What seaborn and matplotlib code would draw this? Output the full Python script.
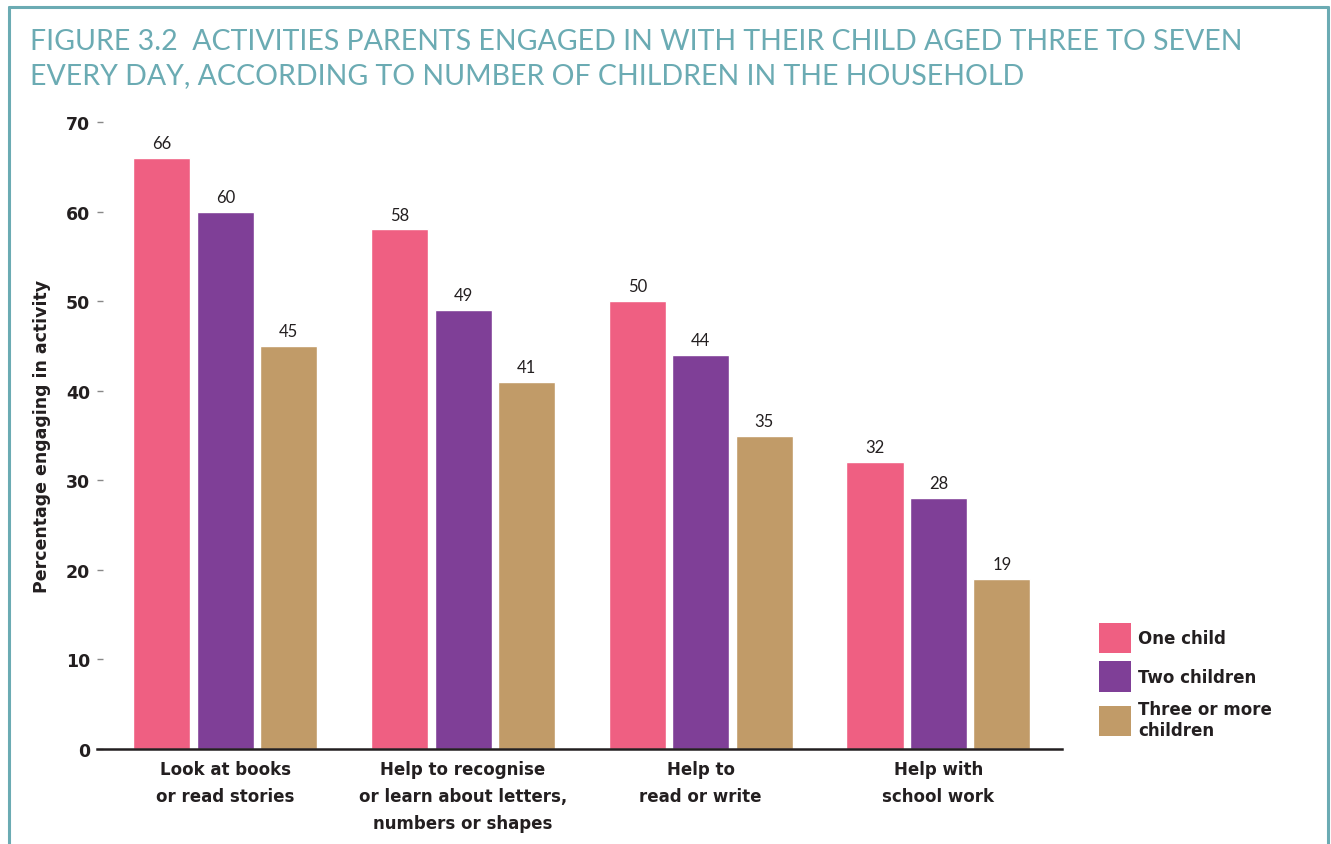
import matplotlib.pyplot as plt
import pandas as pd
import seaborn as sns
from matplotlib.lines import Line2D
from matplotlib.patches import Patch

# data
activities = [
    "Look at books\nor read stories",
    "Help to recognise\nor learn about letters,\nnumbers or shapes",
    "Help to\nread or write",
    "Help with\nschool work",
]
groups = ["One child", "Two children", "Three or more\nchildren"]
one_child = [66, 58, 50, 32]
two_children = [60, 49, 44, 28]
three_plus = [45, 41, 35, 19]

colors = ["#EF5F82", "#7F3F97", "#C19B68"]
teal = "#6BABB3"
dark = "#231F20"
bold_family = ["DejaVu Sans"]

rows = []
for g, vals in zip(groups, [one_child, two_children, three_plus]):
    for a, v in zip(activities, vals):
        rows.append({"activity": a, "group": g, "value": v})
df = pd.DataFrame(rows)

sns.set_style("white")
plt.rcParams["font.family"] = ["Lato", "DejaVu Sans"]

fig = plt.figure(figsize=(13.31, 8.45), dpi=100)
ax = fig.add_axes([97 / 1331, 1 - 750 / 845, (1062 - 97) / 1331, (750 - 123) / 845])

sns.barplot(data=df, x="activity", y="value", hue="group", palette=colors,
            width=0.8, gap=0.1, ax=ax, legend=False, saturation=1)

for cont in ax.containers:
    ax.bar_label(cont, padding=5, fontsize=12, color=dark)

ax.set_ylim(0, 70)
ax.set_xlim(-0.54, 3.52)
ax.set_yticks(range(0, 71, 10), [str(v) for v in range(0, 71, 10)],
              fontweight="bold", family=bold_family)
ax.tick_params(axis="y", left=True, direction="in", length=4, width=1, color="#888888",
               pad=5, labelsize=12.5, labelcolor=dark)
ax.set_xticks(range(len(activities)), activities, fontweight="bold",
              family=bold_family, linespacing=1.65)
ax.tick_params(axis="x", length=0, pad=8, labelsize=12, labelcolor=dark)

for s in ["top", "right", "left"]:
    ax.spines[s].set_visible(False)
ax.spines["bottom"].set_color(dark)
ax.spines["bottom"].set_linewidth(1.8)

ax.set_xlabel("")
ax.set_ylabel("Percentage engaging in activity", fontsize=12.5, fontweight="bold",
              family=bold_family, color=dark, labelpad=11)

handles = [Patch(facecolor=c, edgecolor="none") for c in colors]
leg = fig.legend(handles, groups, loc="upper left", bbox_to_anchor=(1084 / 1331, 1 - 609 / 845),
                 frameon=False, prop={"size": 12, "weight": "bold", "family": bold_family},
                 handlelength=1.9, handleheight=2.4, handletextpad=0.45, labelspacing=0.5,
                 labelcolor=dark)

fig.text(30 / 1331, 1 - 29 / 845,
         "FIGURE 3.2  ACTIVITIES PARENTS ENGAGED IN WITH THEIR CHILD AGED THREE TO SEVEN\n"
         "EVERY DAY, ACCORDING TO NUMBER OF CHILDREN IN THE HOUSEHOLD",
         color=teal, fontsize=20.5, ha="left", va="top", linespacing=1.4)

# frame around figure (bottom edge cut off in the reference)
x0, x1, y0 = 9 / 1331, 1328 / 1331, 1 - 8 / 845
for xs, ys in [([x0, x0], [0, y0]), ([x0, x1], [y0, y0]), ([x1, x1], [y0, 0])]:
    fig.add_artist(Line2D(xs, ys, color=teal, lw=2.2, transform=fig.transFigure))

fig.savefig("out.png", dpi=100)
